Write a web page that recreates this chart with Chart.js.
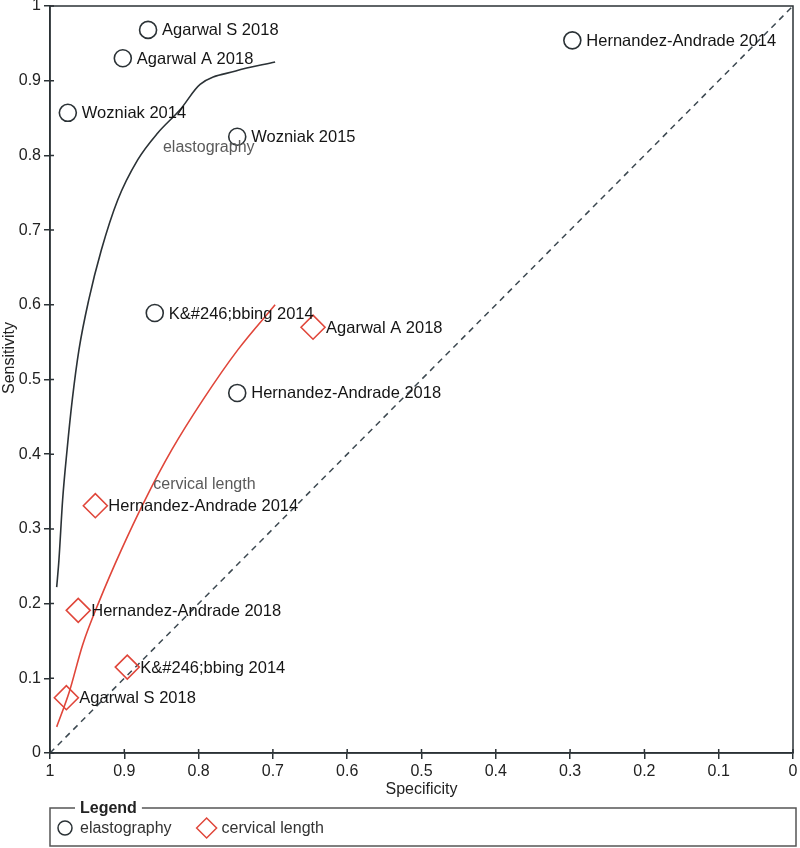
<!DOCTYPE html>
<html>
<head>
<meta charset="utf-8">
<script src="https://cdn.jsdelivr.net/npm/chart.js@4.4.1/dist/chart.umd.min.js"></script>
<style>
  html, body { margin: 0; padding: 0; background: #fff; }
  #wrap { width: 800px; height: 848px; }
</style>
</head>
<body>
<div id="wrap"><canvas id="sroc"></canvas></div>
<script>
// Study points (specificity, sensitivity)
const elastoStudies = ["Agarwal S 2018", "Agarwal A 2018", "Wozniak 2014", "Wozniak 2015",
  "Hernandez-Andrade 2014", "K&#246;bbing 2014", "Hernandez-Andrade 2018"];
const elastoSpec = [0.868, 0.902, 0.976, 0.748, 0.297, 0.859, 0.748];
const elastoSens = [0.968, 0.930, 0.857, 0.825, 0.954, 0.589, 0.482];

const cervStudies = ["Agarwal A 2018", "Hernandez-Andrade 2014", "Hernandez-Andrade 2018",
  "K&#246;bbing 2014", "Agarwal S 2018"];
const cervSpec = [0.646, 0.939, 0.962, 0.896, 0.978];
const cervSens = [0.570, 0.331, 0.191, 0.115, 0.074];

// SROC curves
const elastoCurveSpec = [0.991, 0.988, 0.983, 0.977, 0.970, 0.961, 0.948, 0.931, 0.909, 0.882, 0.855, 0.825, 0.798, 0.750, 0.697];
const elastoCurveSens = [0.222, 0.258, 0.339, 0.406, 0.473, 0.540, 0.606, 0.673, 0.740, 0.794, 0.830, 0.861, 0.895, 0.913, 0.925];
const cervCurveSpec = [0.991, 0.974, 0.956, 0.933, 0.904, 0.872, 0.836, 0.794, 0.747, 0.697];
const cervCurveSens = [0.035, 0.082, 0.145, 0.205, 0.272, 0.339, 0.406, 0.473, 0.540, 0.600];

const curveNames = ["elastography", "cervical length"];
const curveNameSpec = [0.848, 0.861];
const curveNameSens = [0.811, 0.359];

const axisTicks = [0, 0.1, 0.2, 0.3, 0.4, 0.5, 0.6, 0.7, 0.8, 0.9, 1];

const DARK = "#2b3236";
const RED = "#e0463a";
const FONT = '"Liberation Sans", Arial, sans-serif';

const toPoints = (xs, ys) => xs.map((x, i) => ({ x: x, y: ys[i] }));

// labels next to each study marker
const studyLabels = {
  id: "studyLabels",
  afterDatasetsDraw(chart) {
    const ctx = chart.ctx;
    ctx.save();
    ctx.font = "16.5px " + FONT;
    ctx.fillStyle = "#151515";
    ctx.textBaseline = "middle";
    chart.data.datasets.forEach((ds, i) => {
      if (!ds.studyNames) return;
      const gap = ds.pointStyle === "circle" ? 14 : 13;
      chart.getDatasetMeta(i).data.forEach((pt, j) => {
        ctx.fillText(ds.studyNames[j], pt.x + gap, pt.y + 1);
      });
    });
    // curve names
    const xs = chart.scales.x, ys = chart.scales.y;
    ctx.font = "16px " + FONT;
    ctx.fillStyle = "#5a5a5a";
    curveNames.forEach((name, i) => {
      ctx.fillText(name, xs.getPixelForValue(curveNameSpec[i]), ys.getPixelForValue(curveNameSens[i]));
    });
    ctx.restore();
  }
};

// box round the plot, ticks that cross the axes, y title and the legend box
const frame = {
  id: "frame",
  afterDraw(chart) {
    const ctx = chart.ctx;
    const a = chart.chartArea;
    ctx.save();
    ctx.strokeStyle = DARK;
    ctx.lineWidth = 1.5;
    ctx.strokeRect(a.left, a.top, a.right - a.left, a.bottom - a.top);
    ctx.beginPath();
    chart.scales.x.ticks.forEach(t => {
      const px = chart.scales.x.getPixelForValue(t.value);
      ctx.moveTo(px, a.bottom);
      ctx.lineTo(px, a.bottom - 4);
    });
    chart.scales.y.ticks.forEach(t => {
      const py = chart.scales.y.getPixelForValue(t.value);
      ctx.moveTo(a.left, py);
      ctx.lineTo(a.left + 4, py);
    });
    ctx.stroke();

    // y axis title, sits a little above the middle
    ctx.save();
    ctx.translate(10, 358);
    ctx.rotate(-Math.PI / 2);
    ctx.font = "16px " + FONT;
    ctx.fillStyle = "#222";
    ctx.textAlign = "center";
    ctx.textBaseline = "middle";
    ctx.fillText("Sensitivity", 0, 0);
    ctx.restore();

    const top = 808, bottom = 846, left = a.left, right = 796;
    ctx.strokeStyle = "#555";
    ctx.lineWidth = 1.5;
    ctx.strokeRect(left, top, right - left, bottom - top);
    ctx.font = "bold 16px " + FONT;
    const tw = ctx.measureText("Legend").width;
    ctx.fillStyle = "#fff";
    ctx.fillRect(left + 25, top - 3, tw + 10, 6);
    ctx.fillStyle = "#222";
    ctx.textBaseline = "middle";
    ctx.fillText("Legend", left + 30, top + 1);

    ctx.font = "16px " + FONT;
    let x = left + 15;
    const y = 828;
    [0, 1].forEach(i => {
      const ds = chart.data.datasets[i];
      ctx.strokeStyle = ds.borderColor;
      ctx.fillStyle = "rgba(0,0,0,0)";
      Chart.helpers.drawPoint(ctx, {
        pointStyle: ds.pointStyle,
        radius: ds.pointStyle === "circle" ? 7 : 10,
        rotation: 0,
        borderWidth: 1.5
      }, x, y);
      ctx.fillStyle = "#333";
      ctx.fillText(ds.label, x + 15, y + 1);
      x += 15 + ctx.measureText(ds.label).width + 35;
    });
    ctx.restore();
  }
};

new Chart(document.getElementById("sroc"), {
  type: "scatter",
  data: {
    datasets: [
      {
        label: "elastography",
        data: toPoints(elastoSpec, elastoSens),
        studyNames: elastoStudies,
        pointStyle: "circle",
        pointRadius: 8.5,
        pointHoverRadius: 8.5,
        borderColor: DARK,
        backgroundColor: "rgba(0,0,0,0)",
        borderWidth: 1.6
      },
      {
        label: "cervical length",
        data: toPoints(cervSpec, cervSens),
        studyNames: cervStudies,
        pointStyle: "rectRot",
        pointRadius: 12,
        pointHoverRadius: 12,
        borderColor: RED,
        backgroundColor: "rgba(0,0,0,0)",
        borderWidth: 1.6
      },
      {
        label: "elastography SROC",
        type: "line",
        data: toPoints(elastoCurveSpec, elastoCurveSens),
        borderColor: DARK,
        borderWidth: 1.6,
        pointRadius: 0,
        cubicInterpolationMode: "monotone",
        fill: false
      },
      {
        label: "cervical length SROC",
        type: "line",
        data: toPoints(cervCurveSpec, cervCurveSens),
        borderColor: RED,
        borderWidth: 1.6,
        pointRadius: 0,
        cubicInterpolationMode: "monotone",
        fill: false
      },
      {
        label: "chance",
        type: "line",
        data: [{ x: 1, y: 0 }, { x: 0, y: 1 }],
        borderColor: "#3c4850",
        borderWidth: 1.5,
        borderDash: [6, 5],
        pointRadius: 0,
        fill: false
      }
    ]
  },
  options: {
    responsive: true,
    maintainAspectRatio: false,
    animation: false,
    devicePixelRatio: 1,
    layout: { autoPadding: false, padding: { left: 0, right: 7, top: 6, bottom: 45 } },
    plugins: {
      legend: { display: false },
      tooltip: { enabled: false }
    },
    scales: {
      x: {
        type: "linear",
        min: 0,
        max: 1,
        reverse: true,
        afterBuildTicks: s => { s.ticks = axisTicks.map(v => ({ value: v })); },
        afterFit: s => { s.height = 50; s.paddingLeft = 0; s.paddingRight = 0; },
        grid: { display: true, drawOnChartArea: false, drawTicks: true, tickLength: 6, color: DARK, lineWidth: 1.5 },
        border: { color: DARK, width: 1.5 },
        ticks: {
          padding: 3,
          color: "#222",
          font: { family: FONT, size: 16 },
          maxRotation: 0,
          callback: v => String(Math.round(v * 10) / 10)
        },
        title: {
          display: true,
          text: "Specificity",
          color: "#222",
          font: { family: FONT, size: 16 },
          padding: { top: 0, bottom: 4 }
        }
      },
      y: {
        type: "linear",
        min: 0,
        max: 1,
        afterBuildTicks: s => { s.ticks = axisTicks.map(v => ({ value: v })); },
        afterFit: s => { s.width = 50; s.paddingTop = 0; s.paddingBottom = 0; },
        grid: { display: true, drawOnChartArea: false, drawTicks: true, tickLength: 6, color: DARK, lineWidth: 1.5 },
        border: { color: DARK, width: 1.5 },
        ticks: {
          padding: 3,
          color: "#222",
          font: { family: FONT, size: 16 },
          callback: v => String(Math.round(v * 10) / 10)
        },
        title: { display: false }
      }
    }
  },
  plugins: [studyLabels, frame]
});
</script>
</body>
</html>
